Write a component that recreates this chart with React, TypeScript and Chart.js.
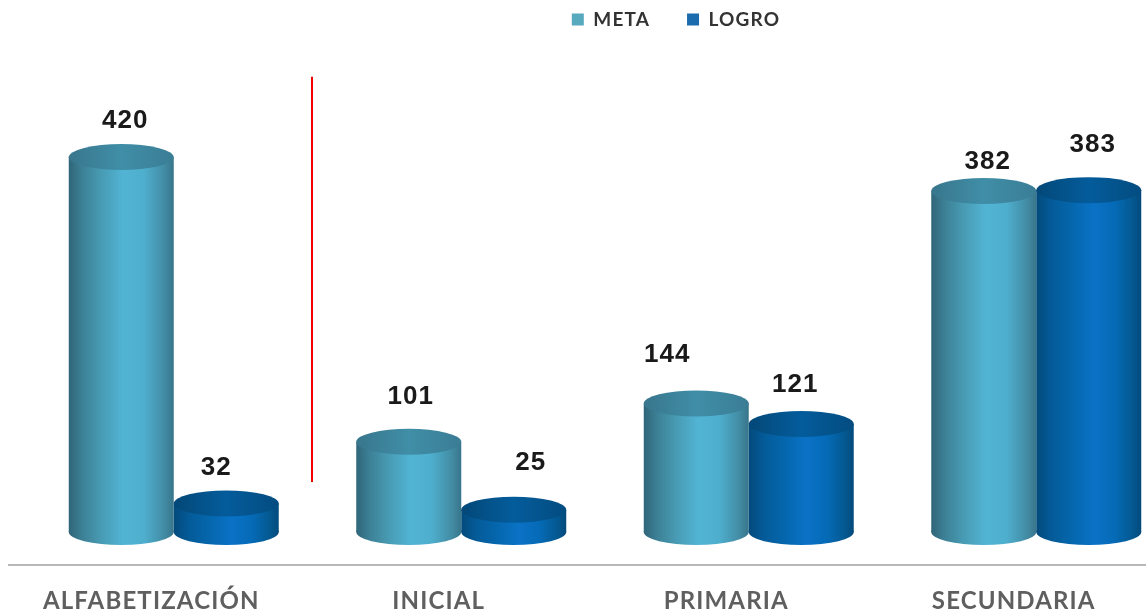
import React, { useEffect, useRef } from "react";
import { Chart, registerables } from "chart.js";

Chart.register(...registerables);

const categories = ["ALFABETIZACIÓN", "INICIAL", "PRIMARIA", "SECUNDARIA"];
const metaValues = [420, 101, 144, 382];
const logroValues = [32, 25, 121, 383];
const seriesNames = ["META", "LOGRO"];
const legendColors = ["#57a9bd", "#1a6cae"];

const metaStops: [number, string][] = [
  [0, "#2f6579"], [0.12, "#3c7f94"], [0.3, "#479ab2"], [0.52, "#52b4d4"], [0.72, "#4eaecd"], [0.9, "#438ea6"], [1, "#38758b"],
];
const logroStops: [number, string][] = [
  [0, "#034a7c"], [0.15, "#045b99"], [0.35, "#0567ae"], [0.55, "#0a72c6"], [0.75, "#056ab6"], [0.92, "#04588f"], [1, "#034a7c"],
];
const metaTopStops: [number, string][] = [[0, "#38768c"], [0.5, "#408ea7"], [1, "#3a7d95"]];
const logroTopStops: [number, string][] = [[0, "#034878"], [0.5, "#045c9b"], [1, "#034c80"]];

// label placement relative to the top of each bar, in pixels
const metaLabelNudge: [number, number][] = [[4, -36], [2, -45], [-29, -49], [4, -29]];
const logroLabelNudge: [number, number][] = [[-10, -36], [17, -47], [-6, -39], [4, -45]];

const CAT_PCT = 0.7304;
const RY = 13;

function grad(ctx: CanvasRenderingContext2D, x0: number, x1: number, stops: [number, string][]) {
  const g = ctx.createLinearGradient(x0, 0, x1, 0);
  stops.forEach(([o, c]) => g.addColorStop(o, c));
  return g;
}

function barFill(stops: [number, string][], datasetIndex: number) {
  return (c: any) => {
    const chart = c.chart;
    const sc = chart.scales.x;
    const bw = (sc.width / categories.length) * CAT_PCT / 2;
    const cx = sc.getPixelForValue(c.dataIndex ?? 0);
    const x0 = datasetIndex === 0 ? cx - bw : cx;
    return grad(chart.ctx, x0, x0 + bw, stops);
  };
}

const cylinderPlugin = {
  id: "cylinder",
  beforeLayout(chart: any) {
    chart.ctx.letterSpacing = "1.15px";
  },
  afterLayout(chart: any) {
    const l = chart.legend;
    const w = l.right - l.left;
    l.left = 676 - w / 2;
    l.right = 676 + w / 2;
    l.top = -27;
    l.bottom = 40;
  },
  beforeDraw(chart: any) {
    chart.ctx.letterSpacing = "1.15px";
  },
  afterDatasetsDraw(chart: any) {
    const ctx: CanvasRenderingContext2D = chart.ctx;
    const base = chart.scales.y.getPixelForValue(0);
    const sets = [
      { side: metaStops, top: metaTopStops },
      { side: logroStops, top: logroTopStops },
    ];
    sets.forEach((s, di) => {
      chart.getDatasetMeta(di).data.forEach((el: any) => {
        const half = el.width / 2;
        const x0 = el.x - half;
        const x1 = el.x + half;
        ctx.save();
        ctx.fillStyle = grad(ctx, x0, x1, s.side);
        ctx.beginPath();
        ctx.ellipse(el.x, base, half, RY, 0, 0, Math.PI * 2);
        ctx.fill();
        ctx.fillStyle = grad(ctx, x0, x1, s.top);
        ctx.beginPath();
        ctx.ellipse(el.x, el.y, half, RY, 0, 0, Math.PI * 2);
        ctx.fill();
        ctx.restore();
      });
    });
  },
  afterDraw(chart: any) {
    const ctx: CanvasRenderingContext2D = chart.ctx;
    const { y: ys } = chart.scales;
    ctx.save();
    // axis rule continues to the left of the plot area
    ctx.strokeStyle = "#b8b8b8";
    ctx.lineWidth = 2;
    ctx.beginPath();
    ctx.moveTo(8, ys.bottom);
    ctx.lineTo(chart.chartArea.left, ys.bottom);
    ctx.stroke();
    // red divider
    ctx.strokeStyle = "#f00000";
    ctx.lineWidth = 2;
    ctx.beginPath();
    ctx.moveTo(312, ys.getPixelForValue(510));
    ctx.lineTo(312, ys.getPixelForValue(56));
    ctx.stroke();
    // value labels
    ctx.fillStyle = "#1a1a1a";
    ctx.font = "bold 26px 'Liberation Sans'";
    ctx.textAlign = "center";
    ctx.textBaseline = "middle";
    (ctx as any).letterSpacing = "1px";
    [metaLabelNudge, logroLabelNudge].forEach((nudge, di) => {
      const meta = chart.getDatasetMeta(di);
      meta.data.forEach((el: any, i: number) => {
        const v = chart.data.datasets[di].data[i];
        ctx.fillText(String(v), el.x + nudge[i][0], el.y + nudge[i][1]);
      });
    });
    ctx.restore();
  },
};

export default function App() {
  const ref = useRef<HTMLCanvasElement>(null);
  useEffect(() => {
    document.body.style.margin = "0";
    document.body.style.overflow = "hidden";
    const chart = new Chart(ref.current!, {
      type: "bar",
      data: {
        labels: categories,
        datasets: [
          { label: seriesNames[0], data: metaValues, backgroundColor: barFill(metaStops, 0), borderWidth: 0 },
          { label: seriesNames[1], data: logroValues, backgroundColor: barFill(logroStops, 1), borderWidth: 0 },
        ],
      },
      options: {
        animation: false,
        responsive: false,
        devicePixelRatio: 1,
        layout: { padding: { left: 30, right: 0, top: 0, bottom: 0 } },
        datasets: { bar: { barPercentage: 1, categoryPercentage: CAT_PCT } },
        plugins: {
          tooltip: { enabled: false },
          legend: {
            position: "top",
            align: "center",
            maxHeight: 0.01,
            labels: {
              boxWidth: 12,
              boxHeight: 12,
              padding: 37,
              color: "#333333",
              font: { family: "Lato", weight: "bold", size: 19 },
              generateLabels: () =>
                seriesNames.map((text, i) => ({
                  text,
                  fillStyle: legendColors[i],
                  strokeStyle: legendColors[i],
                  lineWidth: 0,
                  fontColor: "#333333",
                  datasetIndex: i,
                  hidden: false,
                })),
            },
          },
        },
        scales: {
          x: {
            afterFit(scale: any) {
              scale.height = 50;
            },
            grid: { display: false, drawTicks: false },
            border: { color: "#b8b8b8", width: 2 },
            ticks: {
              padding: 22,
              labelOffset: -22.5,
              maxRotation: 0,
              autoSkip: false,
              color: "#5f5f5f",
              font: { family: "Lato", weight: "bold", size: 24 },
            },
          },
          y: { display: false, min: -37, max: 596 },
        },
      },
      plugins: [cylinderPlugin],
    } as any);
    return () => chart.destroy();
  }, []);
  return (
    <div style={{ width: 1146, height: 615, overflow: "hidden", background: "#fff" }}>
      <canvas ref={ref} width={1180} height={615} style={{ display: "block", width: 1180, height: 615, filter: "blur(0.5px)" }} />
    </div>
  );
}
